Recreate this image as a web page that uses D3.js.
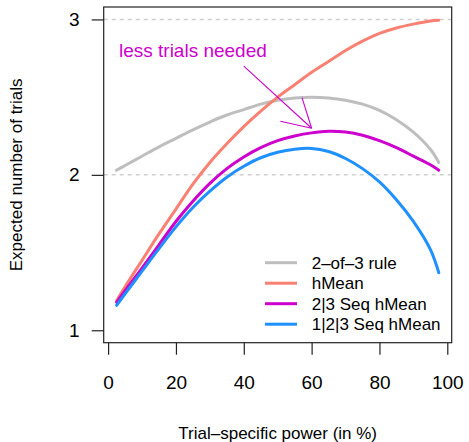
<!DOCTYPE html>
<html>
<head>
<meta charset="utf-8">
<script src="https://cdn.jsdelivr.net/npm/d3@7"></script>
<style>
  body { margin: 0; background: #fff; }
  text { font-family: "Liberation Sans", Arial, Helvetica, sans-serif; fill: #000; }
</style>
</head>
<body>
<div id="chart"></div>
<script>
// trial-specific power (in %)
var power = [2.5, 5, 10, 15, 20, 25, 30, 35, 40, 45, 50, 55, 60, 65, 70, 75, 80, 85, 90, 95, 97.5];

// expected number of trials
var twoOfThree = [2.03, 2.06, 2.12, 2.18, 2.235, 2.29, 2.34, 2.385, 2.42, 2.455, 2.48, 2.495, 2.50, 2.495, 2.48, 2.455, 2.415, 2.355, 2.275, 2.165, 2.08];
var hMean      = [1.19, 1.28, 1.45, 1.62, 1.78, 1.94, 2.08, 2.20, 2.31, 2.41, 2.50, 2.58, 2.66, 2.73, 2.80, 2.86, 2.91, 2.945, 2.97, 2.99, 2.995];
var seq23      = [1.18, 1.255, 1.40, 1.55, 1.70, 1.83, 1.945, 2.04, 2.115, 2.175, 2.22, 2.25, 2.27, 2.28, 2.275, 2.255, 2.22, 2.175, 2.12, 2.065, 2.03];
var seq123     = [1.16, 1.235, 1.38, 1.525, 1.665, 1.79, 1.895, 1.985, 2.055, 2.11, 2.145, 2.165, 2.17, 2.15, 2.105, 2.04, 1.955, 1.84, 1.70, 1.52, 1.37];

var seriesNames = ["2\u2013of\u20133 rule", "hMean", "2|3 Seq hMean", "1|2|3 Seq hMean"];
var seriesColors = ["#bebebe", "#fa8072", "#cd00cd", "#1e90ff"];
var seriesValues = [twoOfThree, hMean, seq23, seq123];

var xTicks = [0, 20, 40, 60, 80, 100];
var yTicks = [1, 2, 3];
var gridLines = [2, 3];

// annotation: text at (25, 2.8), arrow from (40, 2.7) to (60, 2.3)
var noteText = "less trials needed";
var notePos = [25, 2.8];
var arrowFrom = [40, 2.7],
    arrowTo = [60, 2.3];

var width = 469,
    height = 442,
    boxL = 103.7, boxR = 451.7, boxT = 7, boxB = 342.7;

var svg = d3.select("#chart").append("svg")
    .attr("width", width)
    .attr("height", height);

// R style 4% axis extension
var xr = [2.5, 97.5], xe = (xr[1] - xr[0]) * 0.04;
var x = d3.scaleLinear().domain([xr[0] - xe, xr[1] + xe]).range([boxL, boxR]);
var yr = [1, 3], ye = (yr[1] - yr[0]) * 0.04;
var y = d3.scaleLinear().domain([yr[0] - ye, yr[1] + ye]).range([boxB, boxT]);

// dashed reference lines
svg.selectAll(".grid").data(gridLines)
  .enter().append("line")
    .attr("class", "grid")
    .attr("x1", boxL).attr("x2", boxR)
    .attr("y1", function(d) { return y(d); })
    .attr("y2", function(d) { return y(d); })
    .attr("stroke", "#cfcfcf")
    .attr("stroke-width", 1.5)
    .attr("stroke-dasharray", "4,4");

// curves
var line = d3.line()
    .x(function(d) { return x(d[0]); })
    .y(function(d) { return y(d[1]); })
    .curve(d3.curveCatmullRom.alpha(0.5));

seriesValues.forEach(function(vals, i) {
  var pts = power.map(function(p, j) { return [p, vals[j]]; });
  svg.append("path")
    .datum(pts)
    .attr("d", line)
    .attr("fill", "none")
    .attr("stroke", seriesColors[i])
    .attr("stroke-width", 3)
    .attr("stroke-linecap", "round");
});

// box
svg.append("rect")
  .attr("x", boxL).attr("y", boxT)
  .attr("width", boxR - boxL).attr("height", boxB - boxT)
  .attr("fill", "none")
  .attr("stroke", "#222")
  .attr("stroke-width", 1.2);

// axes
var xAxis = svg.append("g")
    .attr("transform", "translate(0," + boxB + ")")
    .call(d3.axisBottom(x).tickValues(xTicks).tickSize(12).tickPadding(21));
var yAxis = svg.append("g")
    .attr("transform", "translate(" + boxL + ",0)")
    .call(d3.axisLeft(y).tickValues(yTicks).tickSize(12).tickPadding(12).tickFormat(d3.format("d")));

[xAxis, yAxis].forEach(function(a) {
  a.select(".domain").remove();
  a.selectAll("line").attr("stroke", "#222").attr("stroke-width", 1.2);
  a.selectAll("text").attr("font-size", 19).attr("font-family", null).attr("fill", "#000");
});

// axis titles
svg.append("text")
  .attr("x", (boxL + boxR) / 2)
  .attr("y", 439)
  .attr("text-anchor", "middle")
  .attr("font-size", 17)
  .text("Trial\u2013specific power (in %)");

svg.append("text")
  .attr("transform", "translate(22," + ((boxT + boxB) / 2) + ") rotate(-90)")
  .attr("text-anchor", "middle")
  .attr("font-size", 17)
  .text("Expected number of trials");

// annotation
svg.append("text")
  .attr("x", x(notePos[0]))
  .attr("y", y(notePos[1]))
  .attr("dy", "0.35em")
  .attr("text-anchor", "middle")
  .attr("font-size", 19)
  .style("fill", "#cd00cd")
  .text(noteText);

var ax0 = x(arrowFrom[0]), ay0 = y(arrowFrom[1]),
    ax1 = x(arrowTo[0]), ay1 = y(arrowTo[1]);
var ang = Math.atan2(ay0 - ay1, ax0 - ax1),
    headLen = 32, headAng = Math.PI / 6;
var arrowG = svg.append("g")
    .attr("stroke", "#cd00cd")
    .attr("stroke-width", 1.1)
    .attr("fill", "none");
arrowG.append("line")
  .attr("x1", ax0).attr("y1", ay0)
  .attr("x2", ax1).attr("y2", ay1);
[-headAng, headAng].forEach(function(a) {
  arrowG.append("line")
    .attr("x1", ax1).attr("y1", ay1)
    .attr("x2", ax1 + headLen * Math.cos(ang + a))
    .attr("y2", ay1 + headLen * Math.sin(ang + a));
});

// legend (bottom right, no box)
var legendX = 265, legendY = 262.7, legendStep = 20.5;
var legend = svg.selectAll(".legend").data(seriesNames)
  .enter().append("g")
    .attr("class", "legend")
    .attr("transform", function(d, i) { return "translate(" + legendX + "," + (legendY + i * legendStep) + ")"; });
legend.append("line")
  .attr("x1", 0).attr("x2", 32)
  .attr("stroke", function(d, i) { return seriesColors[i]; })
  .attr("stroke-width", 3);
legend.append("text")
  .attr("x", 46.7)
  .attr("dy", "0.35em")
  .attr("font-size", 17)
  .text(function(d) { return d; });
</script>
</body>
</html>
